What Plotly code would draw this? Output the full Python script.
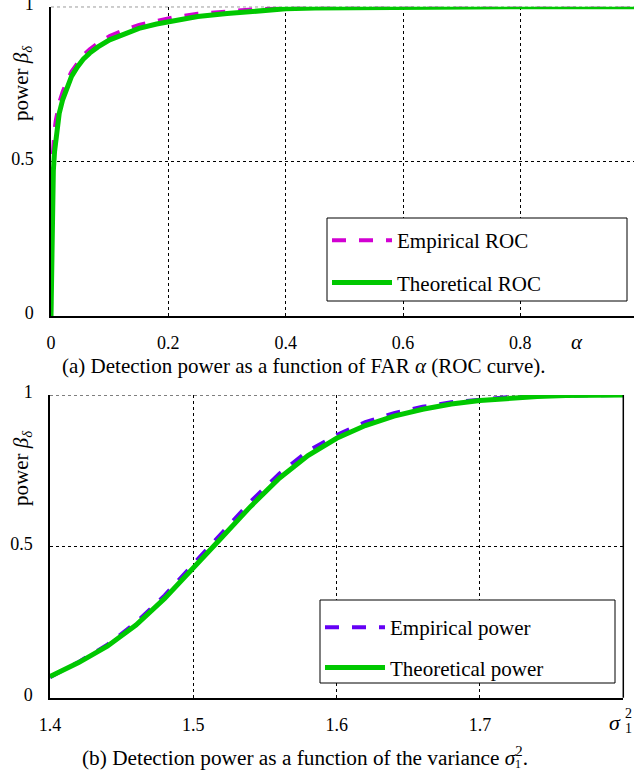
import plotly.graph_objects as go

# ---------------- data ----------------
alpha_th = [0, 0.0005, 0.001, 0.002, 0.003, 0.004, 0.006, 0.008, 0.01, 0.014, 0.02, 0.027,
            0.035, 0.045, 0.055, 0.066, 0.08, 0.1, 0.125, 0.15, 0.18, 0.21, 0.25, 0.3, 0.35,
            0.4, 0.45, 0.5, 0.6, 0.7, 0.8, 0.9, 1.0]
beta_th = [0, 0.1, 0.2, 0.33, 0.42, 0.47, 0.53, 0.57, 0.61, 0.655, 0.70, 0.74, 0.775, 0.805,
           0.83, 0.85, 0.87, 0.893, 0.913, 0.93, 0.944, 0.956, 0.968, 0.978, 0.986, 0.993,
           0.996, 0.997, 0.999, 0.9995, 1.0, 1.0, 1.0]
alpha_emp = alpha_th
beta_emp = [0, 0.2, 0.32, 0.45, 0.52, 0.56, 0.6, 0.63, 0.655, 0.69, 0.725, 0.76, 0.79, 0.818,
            0.843, 0.862, 0.882, 0.905, 0.925, 0.941, 0.955, 0.966, 0.977, 0.986, 0.992,
            0.996, 0.998, 0.999, 0.9995, 1.0, 1.0, 1.0, 1.0]

sigma2 = [1.40, 1.42, 1.44, 1.46, 1.48, 1.50, 1.52, 1.54, 1.56, 1.58, 1.60, 1.62, 1.64,
          1.66, 1.68, 1.70, 1.72, 1.74, 1.76, 1.78, 1.80]
power_th = [0.07, 0.116, 0.17, 0.24, 0.328, 0.427, 0.53, 0.632, 0.725, 0.80, 0.857, 0.899,
            0.93, 0.953, 0.97, 0.982, 0.99, 0.995, 0.998, 0.999, 1.0]
power_emp = [0.068, 0.118, 0.175, 0.248, 0.338, 0.44, 0.545, 0.648, 0.74, 0.815, 0.868, 0.91,
             0.94, 0.961, 0.976, 0.986, 0.993, 0.997, 0.999, 1.0, 1.0]

xticks_a = [0, 0.2, 0.4, 0.6, 0.8]
xticks_b = [1.4, 1.5, 1.6, 1.7]
yticks = [0, 0.5, 1]
ytick_text = ["0", "0.5", "1"]

# ---------------- layout helpers ----------------
W, H = 634, 771
FONT = "Liberation Serif, Times New Roman, serif"
def px(x):
    return x / W
def py(y):
    return 1 - y / H

GREEN = "rgb(0,200,0)"
MAGENTA = "rgb(210,0,210)"
PURPLE = "rgb(100,0,245)"

fig = go.Figure()
fig.add_trace(go.Scatter(x=alpha_emp, y=beta_emp, mode="lines", name="Empirical ROC",
                         line=dict(color=MAGENTA, width=4, dash="14px,13px"),
                         xaxis="x", yaxis="y", legend="legend", legendgroup="a1"))
fig.add_trace(go.Scatter(x=alpha_th, y=beta_th, mode="lines", name="Theoretical ROC",
                         line=dict(color=GREEN, width=5),
                         xaxis="x", yaxis="y", legend="legend", legendgroup="a2"))
fig.add_trace(go.Scatter(x=sigma2, y=power_emp, mode="lines", name="Empirical power",
                         line=dict(color=PURPLE, width=4, dash="14px,13px"),
                         xaxis="x2", yaxis="y2", legend="legend2", legendgroup="b1"))
fig.add_trace(go.Scatter(x=sigma2, y=power_th, mode="lines", name="Theoretical power",
                         line=dict(color=GREEN, width=5),
                         xaxis="x2", yaxis="y2", legend="legend2", legendgroup="b2"))

axis_common = dict(showgrid=True, gridcolor="black", gridwidth=1, griddash="3px,3px",
                   showline=True, linecolor="black", linewidth=1.5, zeroline=False,
                   ticks="", tickfont=dict(family=FONT, size=18, color="black"),
                   fixedrange=True, automargin=False, ticklabeloverflow="allow")

fig.update_layout(
    width=W, height=H, margin=dict(l=0, r=0, t=0, b=0, autoexpand=False),
    paper_bgcolor="white", plot_bgcolor="white",
    font=dict(family=FONT, size=21, color="black"),
    xaxis=dict(domain=[px(51), 1], range=[0, 583 / 586.7], anchor="y",
               tickvals=xticks_a, ticktext=[str(v) for v in xticks_a],
               ticklabelstandoff=10, **axis_common),
    yaxis=dict(domain=[py(316), py(6.7)], range=[0, 1], anchor="x",
               tickvals=yticks, ticktext=ytick_text, ticklabelstandoff=12,
               ticklabelshift=-3, **axis_common),
    xaxis2=dict(domain=[px(50), px(623.3)], range=[1.4, 1.8], anchor="y2",
                tickvals=xticks_b, ticktext=[str(v) for v in xticks_b],
                ticklabelstandoff=10, **axis_common),
    yaxis2=dict(domain=[py(697.7), py(395)], range=[0, 1], anchor="x2",
                tickvals=yticks, ticktext=ytick_text, ticklabelstandoff=12,
                ticklabelshift=-3, **axis_common),
    legend=dict(x=px(327), y=py(220), xanchor="left", yanchor="top", itemwidth=60,
                bgcolor="rgba(0,0,0,0)", borderwidth=0, tracegroupgap=12,
                traceorder="grouped", font=dict(family=FONT, size=21)),
    legend2=dict(x=px(320), y=py(607), xanchor="left", yanchor="top", itemwidth=60,
                 bgcolor="rgba(0,0,0,0)", borderwidth=0, tracegroupgap=10,
                 traceorder="grouped", font=dict(family=FONT, size=21)),
    showlegend=True,
)

shapes = [
    # top dashed border (grid at 1) of both panels
    dict(type="line", xref="x domain", yref="y", x0=0, x1=1, y0=1, y1=1,
         line=dict(color="black", width=1, dash="3px,3px"), layer="below"),
    dict(type="line", xref="x2 domain", yref="y2", x0=0, x1=1, y0=1, y1=1,
         line=dict(color="black", width=1, dash="3px,3px"), layer="below"),
    # legend boxes
    dict(type="rect", xref="paper", yref="paper", x0=px(327), x1=px(627), y0=py(301), y1=py(218),
         line=dict(color="black", width=1), fillcolor="white", layer="above"),
    dict(type="rect", xref="paper", yref="paper", x0=px(320), x1=px(615), y0=py(683), y1=py(600),
         line=dict(color="black", width=1), fillcolor="white", layer="above"),
    # right border of lower plot
    dict(type="line", xref="x2 domain", yref="y2 domain", x0=1, x1=1, y0=0, y1=1,
         line=dict(color="black", width=1.5), layer="above"),
]
fig.update_layout(shapes=shapes)

ylabel = "power <i>β</i><sub><i>δ</i></sub>"
annotations = [
    dict(text=ylabel, x=px(22), y=py(83), textangle=-90, font=dict(size=21)),
    dict(text=ylabel, x=px(22), y=py(468), textangle=-90, font=dict(size=21)),
    dict(text="<i>α</i>", x=px(577), y=py(342), font=dict(size=21)),
    dict(text="<i>σ</i>", x=px(615), y=py(722), font=dict(size=22)),
    dict(text="2", x=px(628), y=py(713), font=dict(size=14)),
    dict(text="1", x=px(628), y=py(728), font=dict(size=14)),
    dict(text="(a) Detection power as a function of FAR <i>α</i> (ROC curve).",
         x=px(60), y=py(366), xanchor="left", font=dict(size=21)),
    dict(text="(b) Detection power as a function of the variance <i>σ</i><sup>2</sup>.",
         x=px(80), y=py(756), xanchor="left", font=dict(size=21.3)),
    dict(text="1", x=px(517.5), y=py(764), font=dict(size=12)),
]
for a in annotations:
    a.setdefault("xref", "paper")
    a.setdefault("yref", "paper")
    a.setdefault("showarrow", False)
    a.setdefault("xanchor", "center")
    a.setdefault("yanchor", "middle")
fig.update_layout(annotations=annotations)

fig.write_html("out.html")
